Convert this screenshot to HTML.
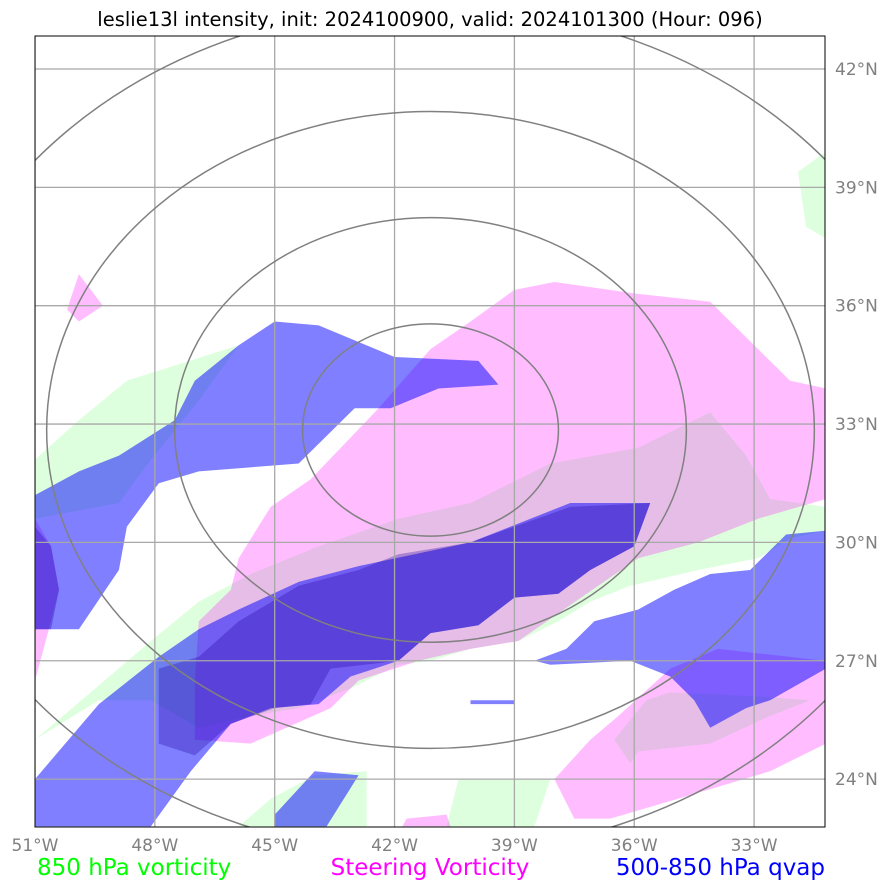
<!DOCTYPE html>
<html><head><meta charset="utf-8"><style>
html,body{margin:0;padding:0;background:#fff;width:896px;height:891px;overflow:hidden;font-family:"Liberation Sans","DejaVu Sans",sans-serif}
svg text{font-family:"DejaVu Sans","Liberation Sans",sans-serif}
</style></head><body>
<svg id="map" width="896" height="891" viewBox="0 0 896 891" xmlns="http://www.w3.org/2000/svg">
<text x="430" y="26" font-size="19.5" text-anchor="middle" fill="#000">leslie13l intensity, init: 2024100900, valid: 2024101300 (Hour: 096)</text>
<defs><clipPath id="clip"><rect x="35" y="36" width="790" height="791"/></clipPath></defs>
<g id="fields" clip-path="url(#clip)"></g>
<rect x="35" y="36" width="790" height="791" fill="none" stroke="#000" stroke-width="1"/>
<g id="ticks"></g>
<text x="37" y="875" font-size="23" fill="#00ff00">850 hPa vorticity</text>
<text x="430" y="875" font-size="23" fill="#ff00ff" text-anchor="middle">Steering Vorticity</text>
<text x="825" y="875" font-size="23" fill="#0000ff" text-anchor="end">500-850 hPa qvap</text>
</svg>
<script>
const lonTicks=[-51,-48,-45,-42,-39,-36,-33];
const latTicks=[24,27,30,33,36,39,42];
const ringKm=[300,600,900,1200];
const stormCenter=[-41.1,32.85];
const green850=[
[[-51,32.1],[-49.9,33.1],[-48.7,34.1],[-45.9,35],[-46.9,33.6],[-48.1,32.1],[-48.9,31],[-51,30.6]],
[[-48.1,27.5],[-46.9,28.5],[-45.6,29.2],[-43.9,29.9],[-41.9,30.6],[-40.1,31],[-38.1,32],[-35.9,32.4],[-34.1,33.3],[-33.2,32.2],[-32.6,31.1],[-31.2,30.9],[-31.2,30.3],[-32.1,30.1],[-32.9,29.6],[-34.4,29.3],[-36.1,28.9],[-37.1,28.5],[-37.9,28],[-38.9,27.5],[-40.1,27.3],[-41.1,27],[-41.9,26.9],[-43.1,26.3],[-44.4,25.8],[-45.6,25.6],[-46.9,25.3],[-48.1,26],[-49.4,26],[-51,25]],
[[-36.5,25],[-35.7,26],[-35.1,26.2],[-32.9,26.1],[-31.6,26],[-32.6,25.6],[-34.1,24.9],[-35.9,24.7],[-36.1,24.4]],
[[-45.9,22.8],[-45.1,23.5],[-44,24.1],[-42.7,24.2],[-42.7,22.8]],
[[-40.7,22.8],[-40.4,24],[-38.1,24],[-38.5,22.8]],
[[-31.9,39.4],[-31.2,39.9],[-31.2,37.7],[-31.7,38]]];
const pinkSteer=[
[[-47,25],[-45.6,24.9],[-43.6,25.8],[-42.9,26.5],[-41.4,27],[-40.1,27.3],[-38.9,27.5],[-37.9,28.2],[-36.9,28.9],[-35.9,29.6],[-34.4,30],[-32.9,30.6],[-31.2,31.1],[-31.2,33.9],[-32.1,34.1],[-33.4,35.4],[-34.1,36.1],[-35.9,36.3],[-38,36.6],[-39,36.4],[-40.1,35.6],[-41.1,34.9],[-42.4,33.4],[-44.1,31.6],[-45.1,30.9],[-45.9,29.6],[-46.1,28.8],[-46.9,28],[-47,26.5]],
[[-38,24],[-37.5,23],[-36.6,23],[-34.9,23.5],[-32.6,24.2],[-31.2,24.9],[-31.2,27],[-33.9,27.3],[-35.1,26.8],[-36.4,25.6],[-37.1,25]],
[[-50.2,35.9],[-49.9,36.8],[-49.3,36],[-49.9,35.6]],
[[-41.7,23],[-40.7,23.1],[-40.6,22.8],[-41.8,22.8]],
[[-51,30.6],[-50.6,29.9],[-50.4,28.8],[-50.6,28],[-51,26.5]]];
const qvap=[
[[-51,31.2],[-49.9,31.8],[-48.9,32.2],[-47.5,33.1],[-47,34.1],[-45.9,35],[-45,35.6],[-43.9,35.5],[-42,34.7],[-39.9,34.6],[-39.4,34],[-40.9,33.9],[-42.1,33.4],[-43,33.4],[-44.4,32],[-46.9,31.8],[-47.9,31.5],[-48.7,30.4],[-48.9,29.3],[-49.9,27.8],[-51,27.8]],
[[-51,24],[-49.4,25.9],[-47.9,27.1],[-46.9,27.8],[-45.9,28.3],[-44.4,29],[-42.9,29.4],[-40.1,30],[-37.6,31],[-35.6,31],[-36,29.9],[-37.1,29.3],[-37.9,28.7],[-39,28.6],[-39.9,27.9],[-41.1,27.7],[-41.9,27],[-43.1,26.6],[-43.9,25.9],[-45.1,25.8],[-46.1,25.4],[-47.1,24.2],[-48.1,22.8],[-51,22.8]],
[[-38.5,27],[-37.7,27.3],[-37,28],[-35.9,28.3],[-35,28.8],[-34.1,29.2],[-33.1,29.3],[-32.2,30.2],[-31.2,30.3],[-31.2,26.8],[-32.6,26],[-33.2,25.8],[-34.1,25.3],[-34.5,26],[-35.1,26.6],[-36.1,27],[-38.1,26.9]],
[[-40.1,26],[-39,26],[-39,25.9],[-40.1,25.9]],
[[-45,23.1],[-44,24.2],[-42.9,24.1],[-43.7,22.8],[-45,22.8]]];
const qvapHigh=[
[[-47.9,26.8],[-46.9,27.1],[-45.9,28],[-44.4,28.9],[-42.9,29.3],[-41.9,29.7],[-40.1,30],[-39,30.4],[-37.6,30.9],[-35.6,31],[-36,29.9],[-37.1,29.3],[-37.9,28.7],[-39,28.6],[-39.9,27.9],[-41.1,27.7],[-41.9,27],[-43.6,26.8],[-44.1,25.9],[-45,25.8],[-46.1,25.4],[-47,24.6],[-47.9,24.9]],
[[-51,30.4],[-50.6,29.9],[-50.4,28.8],[-50.6,27.8],[-51,27.8]]];
const NS='http://www.w3.org/2000/svg';
function xScale(lon){return 35+(lon+51)*39.95;}
function yScale(lat){return 69+(42-lat)*39.45;}
const g=document.getElementById('fields');
function poly(pts,fill,op,name){
 const p=document.createElementNS(NS,'polygon');
 p.setAttribute('points',pts.map(q=>xScale(q[0]).toFixed(1)+','+yScale(q[1]).toFixed(1)).join(' '));
 p.setAttribute('fill',fill);p.setAttribute('fill-opacity',op);
 
 
 g.appendChild(p);
}
green850.forEach(s=>poly(s,'#00ff00',0.13,'vorticity-850-contour'));
pinkSteer.forEach(s=>poly(s,'#ff00ff',0.26,'steering-vorticity-contour'));
qvap.forEach(s=>poly(s,'#0000ff',0.5,'qvap-contour'));
qvapHigh.forEach(s=>poly(s,'#2000a0',0.3,'qvap-high-contour'));
lonTicks.forEach(l=>{const ln=document.createElementNS(NS,'line');ln.setAttribute('x1',xScale(l));ln.setAttribute('x2',xScale(l));ln.setAttribute('y1',36);ln.setAttribute('y2',827);ln.setAttribute('stroke','#a8a8a8');ln.setAttribute('stroke-width','1.3');

g.appendChild(ln);});
latTicks.forEach(l=>{const ln=document.createElementNS(NS,'line');ln.setAttribute('y1',yScale(l));ln.setAttribute('y2',yScale(l));ln.setAttribute('x1',35);ln.setAttribute('x2',825);ln.setAttribute('stroke','#a8a8a8');ln.setAttribute('stroke-width','1.3');

g.appendChild(ln);});
ringKm.forEach(r=>{const dLat=r/111.5;const dLon=dLat/Math.cos(stormCenter[1]*Math.PI/180);
 const e=document.createElementNS(NS,'ellipse');
 e.setAttribute('cx',xScale(stormCenter[0]));e.setAttribute('cy',yScale(stormCenter[1]));
 e.setAttribute('rx',dLon*39.95);e.setAttribute('ry',dLat*39.45);
 e.setAttribute('fill','none');e.setAttribute('stroke','#808080');e.setAttribute('stroke-width','1.5');
 
 g.appendChild(e);});
const t=document.getElementById('ticks');
lonTicks.forEach(l=>{const tx=document.createElementNS(NS,'text');tx.setAttribute('x',xScale(l));tx.setAttribute('y',851);tx.setAttribute('font-size','17');tx.setAttribute('fill','#808080');tx.setAttribute('text-anchor','middle');tx.textContent=Math.abs(l)+'°W';

t.appendChild(tx);});
latTicks.forEach(l=>{const tx=document.createElementNS(NS,'text');tx.setAttribute('x',835);tx.setAttribute('y',yScale(l)+6);tx.setAttribute('font-size','17');tx.setAttribute('fill','#808080');tx.textContent=l+'°N';

t.appendChild(tx);});
</script>
</body></html>
